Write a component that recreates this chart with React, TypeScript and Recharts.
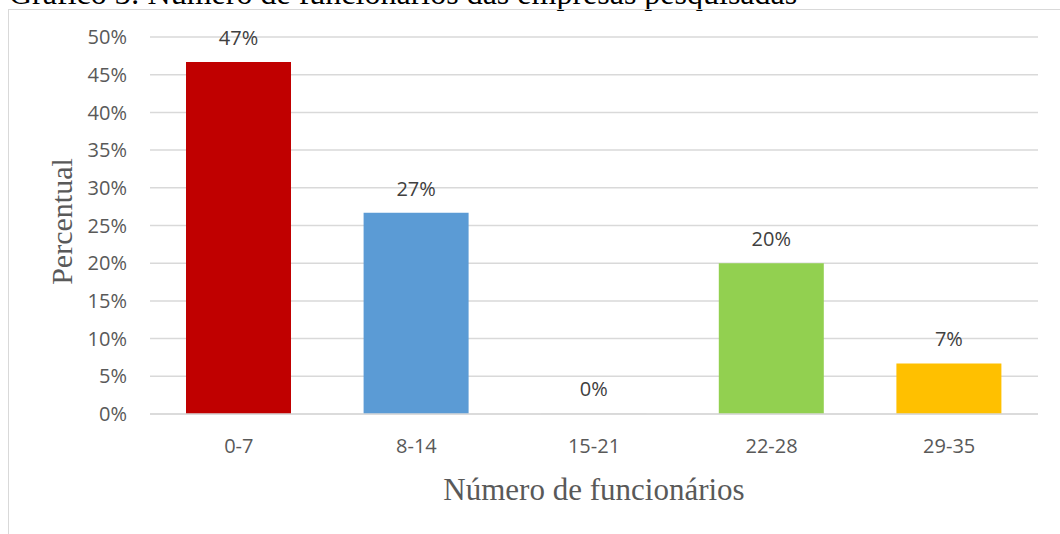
import React from 'react';
import { BarChart, Bar, XAxis, YAxis, CartesianGrid, Cell, LabelList, Label } from 'recharts';

// Faixas de funcionários e percentual de empresas em cada uma
const faixas = ['0-7', '8-14', '15-21', '22-28', '29-35'];
const percentuais = [46.7, 26.7, 0, 20, 6.7];
const yTicks = [0, 5, 10, 15, 20, 25, 30, 35, 40, 45, 50];

// a faixa vazia fica com a cor da linha do eixo, para não aparecer
const barColors = ['#C00000', '#5B9BD5', '#d9d9d9', '#92D050', '#FFC000'];

const data = faixas.map((faixa, i) => ({ faixa, percentual: percentuais[i] }));

const sans = '"Open Sans", sans-serif';
const serif = '"Liberation Serif", "Times New Roman", serif';

const YTitle = (props: any) => {
  const vb = props.viewBox || { x: 0, y: 0, width: 0, height: 0 };
  const cx = vb.x + 72;
  const cy = vb.y + vb.height / 2 - 4;
  return (
    <text
      x={cx}
      y={cy}
      transform={`rotate(-90, ${cx}, ${cy})`}
      textAnchor="middle"
      fill="#595959"
      fontFamily={serif}
      fontSize={30}
    >
      Percentual
    </text>
  );
};

export default function App() {
  return (
    <div style={{ position: 'fixed', left: 0, top: 0, width: 1060, height: 534, overflow: 'hidden', background: '#fff' }}>
      <div
        style={{
          position: 'absolute',
          left: 9,
          top: -23,
          fontFamily: serif,
          fontSize: 32,
          lineHeight: '32px',
          color: '#000',
          whiteSpace: 'nowrap',
        }}
      >
        Gráfico 3: Número de funcionários das empresas pesquisadas
      </div>
      <div
        style={{
          position: 'absolute',
          left: 8,
          top: 9,
          width: 1100,
          height: 600,
          border: '1.5px solid #d9d9d9',
        }}
      />
      <div style={{ position: 'absolute', left: 0, top: 0 }}>
        <BarChart width={1060} height={534} data={data} margin={{ top: 37, right: 22, bottom: 0, left: 0 }}>
          <CartesianGrid vertical={false} stroke="#d9d9d9" strokeWidth={1.5} />
          <XAxis
            dataKey="faixa"
            height={120}
            axisLine={{ stroke: '#d9d9d9', strokeWidth: 1.5 }}
            tickLine={false}
            tickSize={0}
            tickMargin={25}
            tick={{ fill: '#595959', fontSize: 20, fontFamily: sans }}
          >
            <Label
              value="Número de funcionários"
              position="insideBottom"
              offset={34}
              fill="#595959"
              fontFamily={serif}
              fontSize={31}
            />
          </XAxis>
          <YAxis
            width={150}
            domain={[0, 50]}
            ticks={yTicks}
            tickFormatter={(v: number) => `${v}%`}
            axisLine={false}
            tickLine={false}
            tickSize={0}
            tickMargin={23}
            tick={{ fill: '#595959', fontSize: 20, fontFamily: sans }}
          >
            <Label content={YTitle} />
          </YAxis>
          <Bar dataKey="percentual" barSize={105} minPointSize={1} isAnimationActive={false}>
            {data.map((d, i) => (
              <Cell key={d.faixa} fill={barColors[i]} />
            ))}
            <LabelList
              dataKey="percentual"
              position="top"
              offset={17}
              formatter={(v: any) => `${Math.round(Number(v))}%`}
              fill="#404040"
              fontSize={20}
              fontFamily={sans}
            />
          </Bar>
        </BarChart>
      </div>
    </div>
  );
}
